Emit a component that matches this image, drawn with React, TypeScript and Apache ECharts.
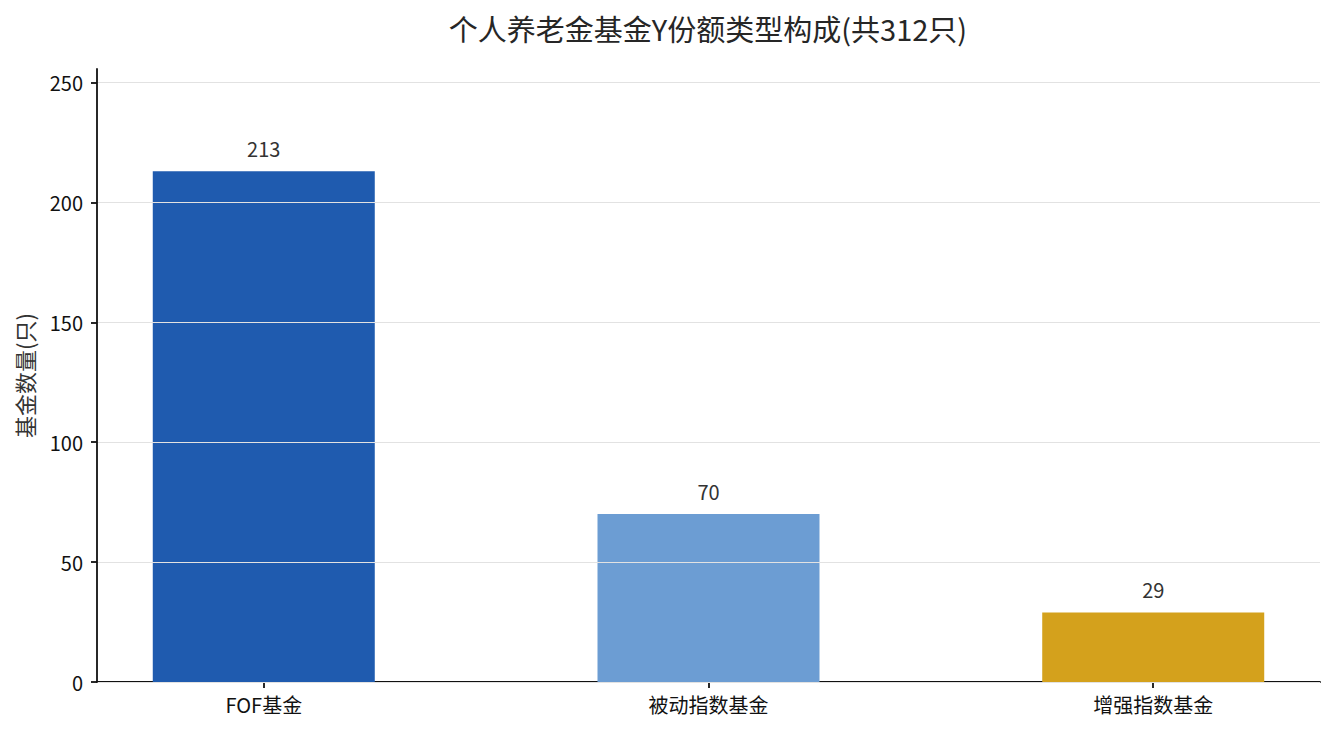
import React, { useEffect, useRef } from 'react';
import * as echarts from 'echarts';

// 基金类型与数量
const categories = ['FOF基金', '被动指数基金', '增强指数基金'];
const fundCounts = [213, 70, 29];
const barColors = ['#1f5baf', '#6c9dd3', '#d4a11c'];
const yTicks = [0, 50, 100, 150, 200, 250];

const FONT = '"Noto Sans CJK SC", "Noto Sans", sans-serif';

const App: React.FC = () => {
  const chartRef = useRef<HTMLDivElement>(null);

  useEffect(() => {
    document.body.style.margin = '0';
    if (!chartRef.current) return;
    const chart = echarts.init(chartRef.current, null, { renderer: 'svg' });

    const total = fundCounts.reduce((a, b) => a + b, 0);

    const options = {
      animation: false,
      backgroundColor: '#ffffff',
      textStyle: { fontFamily: FONT },
      title: {
        text: `个人养老金基金Y份额类型构成(共${total}只)`,
        left: 703,
        textAlign: 'center',
        top: 8,
        textStyle: { fontFamily: FONT, fontSize: 29, fontWeight: 'normal', color: '#262626' },
      },
      grid: { left: 97, right: 15, top: 69, bottom: 52 },
      xAxis: {
        type: 'value',
        min: -0.375,
        max: 2.375,
        axisLine: { show: true, onZero: false, lineStyle: { color: '#111', width: 1.8 } },
        axisTick: { show: true, length: 6, lineStyle: { color: '#111', width: 1.8 }, customValues: [0, 1, 2] },
        axisLabel: {
          customValues: [0, 1, 2],
          formatter: (v: number) => categories[Math.round(v)] ?? '',
          color: '#111',
          fontSize: 20,
          margin: 12,
          fontFamily: FONT,
        },
        splitLine: { show: false },
      },
      yAxis: {
        type: 'value',
        min: 0,
        max: Math.max(...fundCounts) * 1.2,
        z: 3,
        name: '基金数量(只)',
        nameLocation: 'middle',
        nameGap: 62,
        nameTextStyle: { fontSize: 22, color: '#333', fontFamily: FONT },
        axisLine: { show: true, onZero: false, lineStyle: { color: '#111', width: 1.8 } },
        axisTick: { show: true, length: 6, lineStyle: { color: '#111', width: 1.8 }, customValues: yTicks },
        axisLabel: {
          customValues: yTicks,
          color: '#111',
          fontSize: 20,
          margin: 14,
          fontFamily: FONT,
        },
        splitLine: { show: true, lineStyle: { color: '#e2e2e2', width: 1 } },
      },
      series: [
        {
          type: 'bar',
          barWidth: 222,
          data: fundCounts.map((v, i) => ({
            value: [i, v],
            itemStyle: { color: barColors[i] },
          })),
          label: {
            show: true,
            position: 'top',
            distance: 13,
            color: '#333',
            fontSize: 20,
            fontFamily: FONT,
            formatter: (p: any) => String(p.value[1]),
          },
        },
      ],
    };

    chart.setOption(options as any);

    const handleResize = () => chart.resize();
    window.addEventListener('resize', handleResize);
    return () => {
      window.removeEventListener('resize', handleResize);
      chart.dispose();
    };
  }, []);

  return <div ref={chartRef} style={{ width: '1335px', height: '734px' }} />;
};

export default App;
